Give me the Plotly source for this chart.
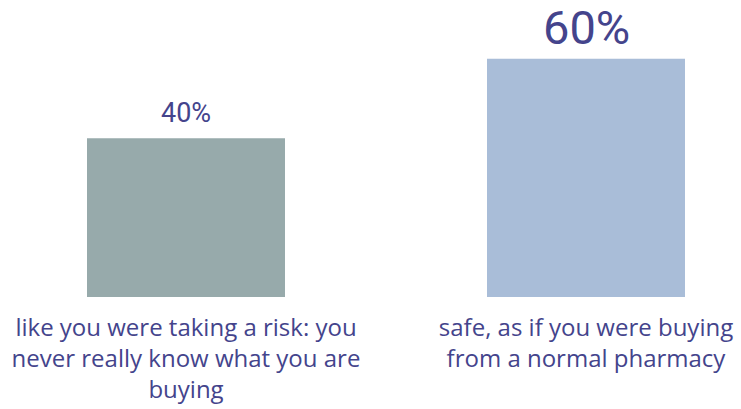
import plotly.graph_objects as go

# Survey answers and their shares (%)
categories = [
    "like you were taking a risk: you<br>never really know what you are<br>buying",
    "safe, as if you were buying<br>from a normal pharmacy",
]
values = [40, 60]
value_labels = ["40%", "60%"]
bar_colors = ["#97AAAB", "#A9BDD8"]
label_sizes = [27, 47]
label_offsets = [7, 2]

TEXT_COLOR = "#44448C"
FONT = "Open Sans"
VALUE_FONT = "Roboto"

fig = go.Figure(
    go.Bar(
        x=categories,
        y=values,
        width=0.495,
        marker=dict(color=bar_colors, line=dict(width=0)),
        hoverinfo="skip",
    )
)

for cat, val, lab, size, off in zip(categories, values, value_labels, label_sizes, label_offsets):
    fig.add_annotation(
        x=cat,
        y=val,
        xref="x",
        yref="y",
        text=lab,
        showarrow=False,
        yanchor="bottom",
        yshift=off,
        font=dict(family=VALUE_FONT, size=size, color=TEXT_COLOR),
    )

fig.update_layout(
    width=741,
    height=409,
    margin=dict(l=0, r=0, t=0, b=112),
    paper_bgcolor="white",
    plot_bgcolor="white",
    showlegend=False,
    font=dict(family=FONT, color=TEXT_COLOR),
    xaxis=dict(
        type="category",
        range=[-0.465, 1.3875],
        showgrid=False,
        zeroline=False,
        showline=False,
        ticks="",
        tickfont=dict(family=FONT, size=24, color=TEXT_COLOR),
        ticklabelstandoff=14,
    ),
    yaxis=dict(
        range=[0, 74.8],
        visible=False,
        showgrid=False,
        zeroline=False,
    ),
)

fig.write_html("out.html")
